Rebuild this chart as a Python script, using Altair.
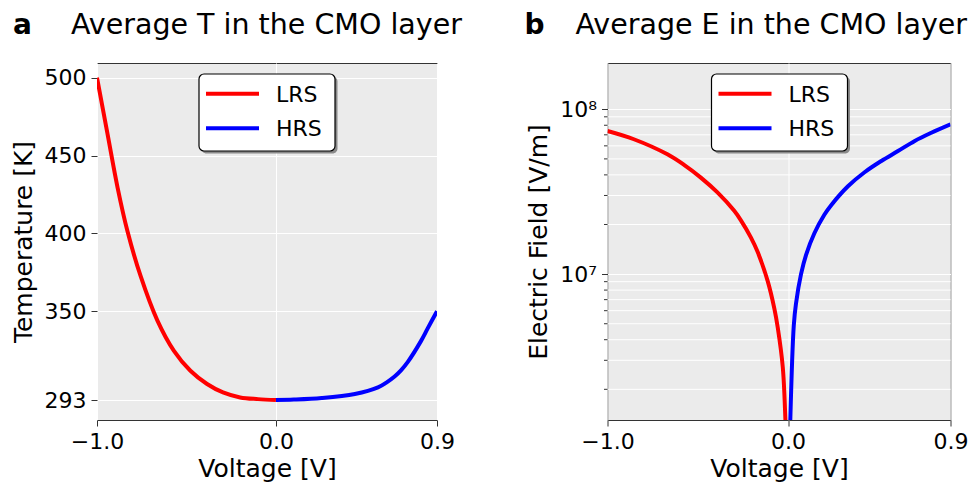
import altair as alt
import pandas as pd

FONT = "DejaVu Sans"

# ---------------- data ----------------
# panel a: average temperature in the CMO layer (K) vs voltage (V)
ta_lrs_v = [-1.0, -0.941, -0.885, -0.830, -0.756, -0.663, -0.570, -0.478, -0.385, -0.296, -0.200, -0.100, 0.0]
ta_lrs_t = [500.0, 463.7, 429.4, 401.5, 372.5, 344.2, 324.6, 311.8, 303.3, 297.9, 294.7, 293.6, 293.0]
ta_hrs_v = [0.0, 0.100, 0.256, 0.441, 0.570, 0.617, 0.663, 0.700, 0.737, 0.811, 0.848, 0.900]
ta_hrs_t = [293.0, 293.3, 294.3, 296.9, 301.1, 304.2, 308.1, 312.2, 317.5, 331.0, 339.0, 350.0]

# panel b: average electric field in the CMO layer (V/m) vs voltage (V)
eb_lrs_v = [-1.0, -0.854, -0.668, -0.576, -0.483, -0.391, -0.298, -0.261, -0.206, -0.168,
            -0.113, -0.076, -0.057, -0.029, -0.015, -0.010]
eb_lrs_e = [7.38e7, 6.58e7, 5.33e7, 4.60e7, 3.85e7, 3.13e7, 2.42e7, 2.12e7, 1.67e7, 1.36e7,
            9.1e6, 6.2e6, 4.74e6, 2.72e6, 1.35e6, 9.0e5]
eb_hrs_v = [0.010, 0.013, 0.032, 0.044, 0.072, 0.100, 0.146, 0.202, 0.239, 0.332, 0.424,
            0.517, 0.609, 0.702, 0.794, 0.900]
eb_hrs_e = [9.0e5, 1.35e6, 4.9e6, 6.62e6, 1.0e7, 1.31e7, 1.77e7, 2.3e7, 2.62e7, 3.41e7, 4.15e7,
            4.86e7, 5.58e7, 6.43e7, 7.2e7, 8.1e7]

series = ["LRS", "HRS"]
colors = ["#ff0000", "#0000ff"]

x_ticks = [-1.0, 0.0, 0.9]
t_ticks = [293, 350, 400, 450, 500]
e_ticks = [1e7, 1e8]
e_minor = [2e6, 3e6, 4e6, 5e6, 6e6, 7e6, 8e6, 9e6,
           2e7, 3e7, 4e7, 5e7, 6e7, 7e7, 8e7, 9e7]

WA, WB, H = 340, 343, 357


def series_df(v1, y1, v2, y2):
    return pd.concat([
        pd.DataFrame({"V": v1, "Y": y1, "s": series[0]}),
        pd.DataFrame({"V": v2, "Y": y2, "s": series[1]}),
    ], ignore_index=True)


one = pd.DataFrame({"k": [0]})

color_enc = alt.Color("s:N", scale=alt.Scale(domain=series, range=colors), legend=None)
x_enc = alt.X("V:Q", scale=alt.Scale(domain=[-1.0, 0.9], nice=False, zero=False),
              axis=alt.Axis(values=x_ticks, format=".1f", title="Voltage [V]", labelFlush=False))


def legend_layers(lx, ly):
    out = []
    out.append(alt.Chart(one).mark_rect(fill="#8a8a8a", cornerRadius=5).encode(
        x=alt.value(lx + 2.5), x2=alt.value(lx + 138.5), y=alt.value(ly + 2.5), y2=alt.value(ly + 79.5)))
    out.append(alt.Chart(one).mark_rect(fill="white", stroke="black", strokeWidth=1.2, cornerRadius=5).encode(
        x=alt.value(lx), x2=alt.value(lx + 136), y=alt.value(ly), y2=alt.value(ly + 77)))
    for i, (name, c) in enumerate(zip(series, colors)):
        ry = ly + 19.7 + i * 34.6
        out.append(alt.Chart(one).mark_rule(color=c, strokeWidth=4).encode(
            x=alt.value(lx + 7), x2=alt.value(lx + 60), y=alt.value(ry)))
        out.append(alt.Chart(one).mark_text(text=name, align="left", baseline="middle",
                                            font=FONT, fontSize=22, color="black").encode(
            x=alt.value(lx + 77), y=alt.value(ry + 1)))
    return out


def title_layers(letter, ldx, text, tdx):
    return [
        alt.Chart(one).mark_text(text=letter, align="left", baseline="alphabetic", font=FONT,
                                 fontSize=28, fontWeight="bold", color="black").encode(
            x=alt.value(ldx), y=alt.value(-29)),
        alt.Chart(one).mark_text(text=text, align="left", baseline="alphabetic", font=FONT,
                                 fontSize=28.5, color="black").encode(
            x=alt.value(tdx), y=alt.value(-29)),
    ]


# ---------------- panel a ----------------
t_scale = alt.Scale(domain=[280.2, 509.4], nice=False, zero=False)
df_a = series_df(ta_lrs_v, ta_lrs_t, ta_hrs_v, ta_hrs_t)
lines_a = alt.Chart(df_a).mark_line(strokeWidth=4, interpolate="catmull-rom", clip=True).encode(
    x=x_enc,
    y=alt.Y("Y:Q", scale=t_scale,
            axis=alt.Axis(values=t_ticks, title="Temperature [K]", titlePadding=8)),
    color=color_enc, order="V:Q")
panel_a = alt.layer(lines_a, *legend_layers(102, 11),
                    *title_layers("a", -84, "Average T in the CMO layer", -26)).properties(width=WA, height=H)

# ---------------- panel b ----------------
e_scale = alt.Scale(type="log", domain=[1.303e6, 1.909e8], nice=False)
e_axis = alt.Axis(values=e_ticks, title="Electric Field [V/m]", titlePadding=8,
                  labelExpr="datum.value >= 5e7 ? '10⁸' : '10⁷'")
df_b = series_df(eb_lrs_v, eb_lrs_e, eb_hrs_v, eb_hrs_e)
minor_df = pd.DataFrame({"m": e_minor})
minor_grid = alt.Chart(minor_df).mark_rule(color="white", strokeWidth=1).encode(
    y=alt.Y("m:Q", scale=e_scale, axis=e_axis, title="Electric Field [V/m]"),
    x=alt.value(0), x2=alt.value(WB))
minor_ticks = alt.Chart(minor_df).mark_rule(color="#333333", strokeWidth=1).encode(
    y=alt.Y("m:Q", scale=e_scale, axis=e_axis, title="Electric Field [V/m]"),
    x=alt.value(-3.5), x2=alt.value(0))
lines_b = alt.Chart(df_b).mark_line(strokeWidth=4, interpolate="catmull-rom", clip=True).encode(
    x=x_enc,
    y=alt.Y("Y:Q", scale=e_scale, axis=e_axis, title="Electric Field [V/m]"),
    color=color_enc, order="V:Q")
panel_b = alt.layer(minor_grid, minor_ticks, lines_b, *legend_layers(104, 11),
                    *title_layers("b", -83, "Average E in the CMO layer", -32)).properties(width=WB, height=H)

chart = alt.hconcat(panel_a, panel_b, spacing=60.5).properties(
    padding={"left": 10, "top": 10, "right": 2, "bottom": 2}
).configure_view(
    fill="#EBEBEB", stroke="#333333", strokeWidth=1
).configure_axis(
    grid=True, gridColor="white", gridWidth=1, domain=False,
    tickColor="#333333", tickSize=6, tickWidth=1,
    labelFont=FONT, labelFontSize=22, labelColor="black", labelPadding=5,
    titleFont=FONT, titleFontSize=25, titleFontWeight="normal", titleColor="black",
    labelOverlap=False
).configure_axisX(titlePadding=4)

chart.save("out.html", embed_options={"renderer": "svg", "actions": False})
